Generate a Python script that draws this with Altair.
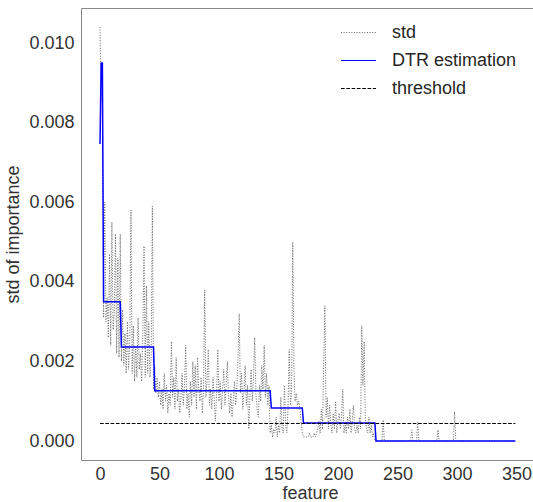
import altair as alt
import pandas as pd

# ---- data ----
std_values = [
    # 0-49
    0.0104, 0.0086, 0.0085, 0.0031, 0.0060, 0.0030, 0.0036, 0.0026, 0.0047, 0.0024,
    0.0055, 0.0028, 0.0032, 0.0052, 0.0022, 0.0046, 0.0021, 0.0052, 0.0020, 0.0033,
    0.0019, 0.0027, 0.0017, 0.0030, 0.0018, 0.0025, 0.0058, 0.0017, 0.0029, 0.0015,
    0.0024, 0.0016, 0.0031, 0.0018, 0.0022, 0.0015, 0.0027, 0.0049, 0.0016, 0.0039,
    0.0017, 0.0030, 0.0016, 0.0021, 0.0059, 0.0013, 0.0019, 0.0012, 0.0016, 0.0011,
    # 50-99
    0.0015, 0.0009, 0.0013, 0.0008, 0.0017, 0.0010, 0.0014, 0.0007, 0.0012, 0.0009,
    0.0025, 0.0011, 0.0016, 0.0008, 0.0021, 0.0010, 0.0013, 0.0007, 0.0011, 0.0017,
    0.0009, 0.0014, 0.0024, 0.0008, 0.0012, 0.0006, 0.0015, 0.0009, 0.0020, 0.0011,
    0.0019, 0.0008, 0.0021, 0.0013, 0.0010, 0.0016, 0.0007, 0.0013, 0.0038, 0.0011,
    0.0015, 0.0023, 0.0009, 0.0013, 0.0008, 0.0016, 0.0010, 0.0005, 0.0012, 0.0023,
    # 100-142
    0.0010, 0.0015, 0.0008, 0.0013, 0.0018, 0.0009, 0.0014, 0.0020, 0.0011, 0.0007,
    0.0012, 0.0006, 0.0010, 0.0015, 0.0009, 0.0013, 0.0021, 0.0032, 0.0012, 0.0017,
    0.0008, 0.0013, 0.0019, 0.0009, 0.0014, 0.0003, 0.0011, 0.0018, 0.0010, 0.0016,
    0.0026, 0.0012, 0.0008, 0.0006, 0.0014, 0.0010, 0.0019, 0.0013, 0.0024, 0.0011,
    0.0017, 0.0009, 0.0014,
    # 143-169
    0.0002, 0.0004, 0.0001, 0.0003, 0.0002, 0.0006, 0.0001, 0.0004, 0.0002, 0.0011,
    0.0003, 0.0002, 0.0014, 0.0004, 0.0002, 0.0008, 0.0023, 0.0009, 0.0012, 0.0050,
    0.0018, 0.0010, 0.0012, 0.0009, 0.0010, 0.0008, 0.0005,
    # 170-230
    0.0002, 0.0001, 0.0001, 0.0001, 0.0001, 0.0001, 0.0002, 0.0001, 0.0001, 0.0001,
    0.0002, 0.0001, 0.0002, 0.0003, 0.0005, 0.0002, 0.0008, 0.0003, 0.0020, 0.0034,
    0.0006, 0.0011, 0.0003, 0.0009, 0.0004, 0.0002, 0.0007, 0.0003, 0.0010, 0.0002,
    0.0005, 0.0007, 0.0003, 0.0006, 0.0013, 0.0002, 0.0004, 0.0002, 0.0006, 0.0003,
    0.0008, 0.0002, 0.0005, 0.0009, 0.0003, 0.0002, 0.0004, 0.0002, 0.0006, 0.0003,
    0.0029, 0.0014, 0.0025, 0.0005, 0.0003, 0.0002, 0.0006, 0.0002, 0.0004, 0.0001,
    0.0002,
    # 231-349
    0.0, 0.0, 0.0, 0.0, 0.0, 0.0, 0.0, 0.00053, 0.0, 0.0,
    0.0, 0.0, 0.0, 0.0, 0.0, 0.0, 0.0, 0.0, 0.0, 0.0,
    0.0, 0.0, 0.0, 0.0, 0.0, 0.0, 0.0, 0.0, 0.0, 0.0,
    0.0, 0.00028, 0.0, 0.0, 0.0, 0.0, 0.00048, 0.0, 0.0, 0.0,
    0.0, 0.0, 0.0, 0.0, 0.0, 0.0, 0.0, 0.0, 0.0, 0.0,
    0.0, 0.0, 0.0, 0.00028, 0.0, 0.0, 0.0, 0.0, 0.0, 0.0,
    0.0, 0.0, 0.0, 0.0, 0.0, 0.0, 0.0, 0.00074, 0.0, 0.0,
    0.0, 0.0, 0.0, 0.0, 0.0, 0.0, 0.0, 0.0, 0.0, 0.0,
    0.0, 0.0, 0.0, 0.0, 0.0, 0.0, 0.0, 0.0, 0.0, 0.0,
    0.0, 0.0, 0.0, 0.0, 0.0, 0.0, 0.0, 0.0, 0.0, 0.0,
    0.0, 0.0, 0.0, 0.0, 0.0, 0.0, 0.0, 0.0, 0.0, 0.0,
    0.0, 0.0, 0.0, 0.0, 0.0, 0.0, 0.0, 0.0, 0.0,
]

dtr_x = [0, 1, 2, 3, 17, 18, 45, 46, 143, 144, 170, 171, 231, 232, 349]
dtr_y = [0.00746, 0.0095, 0.0095, 0.0035, 0.0035, 0.00236, 0.00236, 0.00126,
         0.00126, 0.00083, 0.00083, 0.00045, 0.00045, 0.0, 0.0]

threshold_x = [0, 349]
threshold_y = [0.00044, 0.00044]

x_ticks = [0, 50, 100, 150, 200, 250, 300, 350]
y_ticks = [0.0, 0.002, 0.004, 0.006, 0.008, 0.010]
series_names = ["std", "DTR estimation", "threshold"]

# ---- tables ----
std_df = pd.DataFrame({"feature": list(range(len(std_values))), "value": std_values, "series": "std"})
dtr_df = pd.DataFrame({"feature": dtr_x, "value": dtr_y, "series": "DTR estimation"})
thr_df = pd.DataFrame({"feature": threshold_x, "value": threshold_y, "series": "threshold"})

FONT = "Liberation Sans"
TXT = "#333333"

xscale = alt.Scale(domain=[-15.97, 363.9], nice=False, zero=False)
yscale = alt.Scale(domain=[-0.000477, 0.01088], nice=False, zero=False)
color_scale = alt.Scale(domain=series_names, range=["#666666", "#0000ff", "#000000"])
dash_scale = alt.Scale(domain=series_names, range=[[1, 1.6], [1, 0], [3.7, 1.6]])

legend = alt.Legend(
    title=None, orient="none", legendX=259, legendY=6,
    symbolType="stroke", symbolSize=1225, symbolStrokeWidth=1.2,
    labelFontSize=18, labelFont=FONT, labelColor="#262626",
    rowPadding=-9, labelOffset=15,
)

color_enc = alt.Color("series:N", scale=color_scale, legend=legend)
dash_enc = alt.StrokeDash("series:N", scale=dash_scale, legend=legend)

std_layer = alt.Chart(std_df).mark_line(strokeWidth=1).encode(
    x=alt.X("feature:Q", scale=xscale,
            axis=alt.Axis(values=x_ticks, title="feature", orient="bottom",
                          labelPadding=5, titlePadding=1, titleX=229)),
    y=alt.Y("value:Q", scale=yscale,
            axis=alt.Axis(values=y_ticks, format=".3f", title="std of importance",
                          labelPadding=7, titlePadding=6)),
    color=color_enc,
    strokeDash=dash_enc,
)

dtr_layer = alt.Chart(dtr_df).mark_line(strokeWidth=1.5).encode(
    x=alt.X("feature:Q", scale=xscale, axis=None),
    y=alt.Y("value:Q", scale=yscale, axis=None),
    color=color_enc,
    strokeDash=dash_enc,
)

thr_layer = alt.Chart(thr_df).mark_line(strokeWidth=1).encode(
    x=alt.X("feature:Q", scale=xscale,
            axis=alt.Axis(orient="top", labels=False, ticks=False, title=None, domain=True)),
    y=alt.Y("value:Q", scale=yscale, axis=None),
    color=color_enc,
    strokeDash=dash_enc,
)

chart = (
    alt.layer(std_layer, dtr_layer, thr_layer)
    .resolve_axis(x="independent", y="independent")
    .properties(
        width=452, height=452,
        autosize=alt.AutoSizeParams(type="none"),
        padding={"left": 81, "top": 8, "right": 0, "bottom": 42},
        background="white",
    )
    .configure_view(stroke="transparent")
    .configure_axis(
        labelFont=FONT, labelFontSize=18, labelColor=TXT,
        titleFont=FONT, titleFontSize=18, titleColor=TXT, titleFontWeight="normal",
        grid=False, ticks=False, domainColor="#8a8a8a", domainWidth=1,
    )
)

chart.save("out.html", embed_options={"renderer": "svg", "actions": False})
